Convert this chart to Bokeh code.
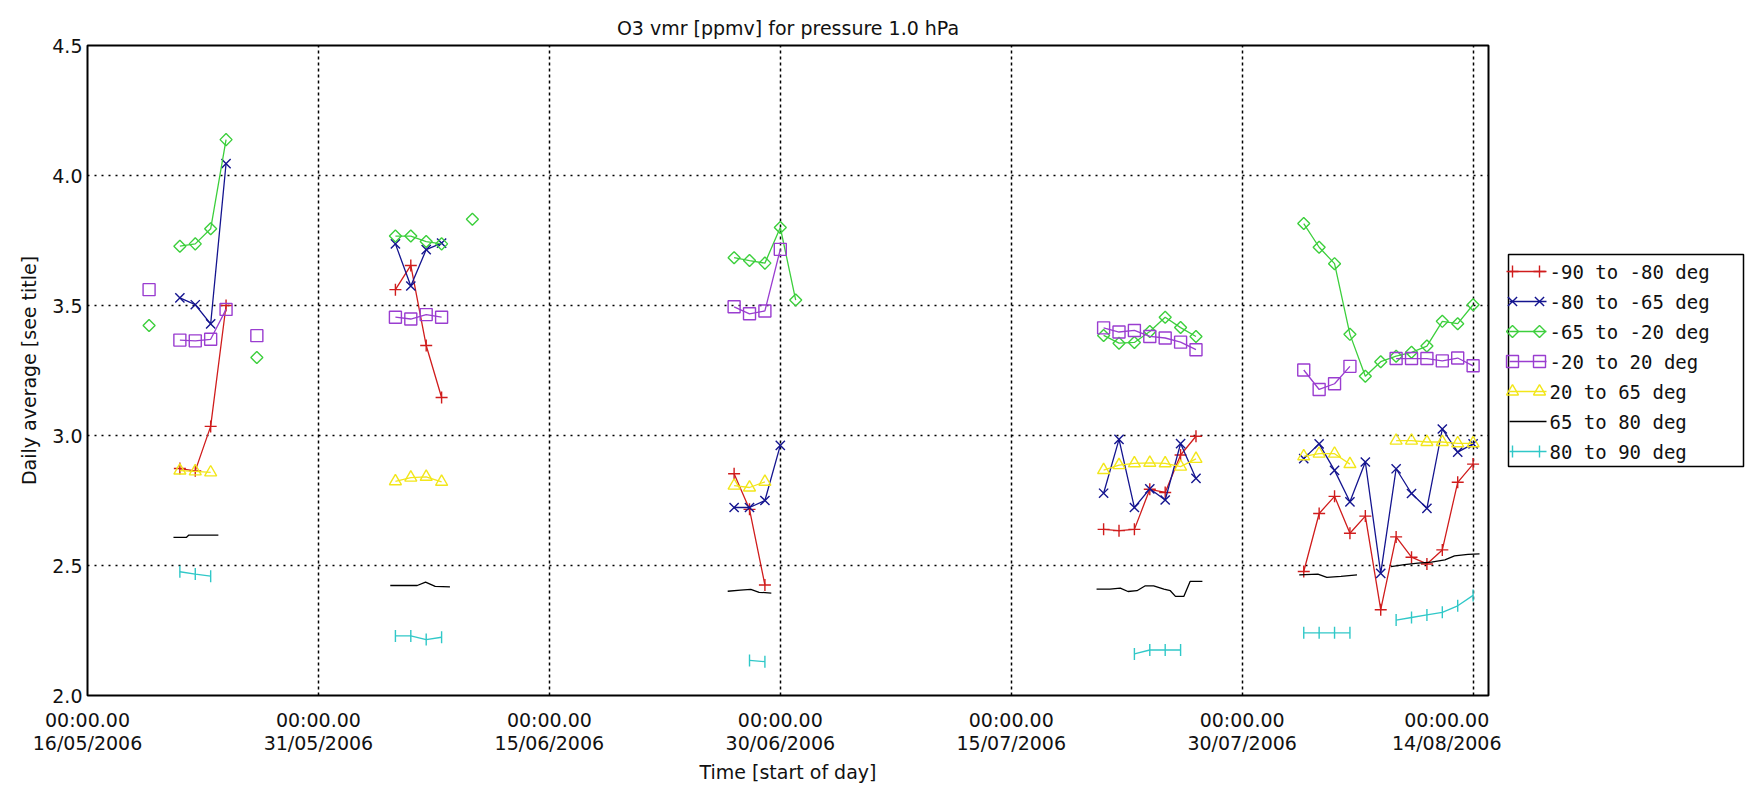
import numpy as np
import pandas as pd
from bokeh.plotting import figure
from bokeh.models import Range1d, FixedTicker, DatetimeTickFormatter, NumeralTickFormatter
from bokeh.layouts import row
from bokeh.embed import file_html
from bokeh.resources import INLINE
from bokeh.core.properties import value

TITLE = "O3 vmr [ppmv] for pressure 1.0 hPa"
X_LABEL = "Time [start of day]"
Y_LABEL = "Daily average [see title]"

X_START = "2006-05-16"
X_END = "2006-08-15"
X_TICKS = ["2006-05-16", "2006-05-31", "2006-06-15", "2006-06-30",
           "2006-07-15", "2006-07-30", "2006-08-14"]
Y_TICKS = [2.0, 2.5, 3.0, 3.5, 4.0, 4.5]

# observation days (daily averages)
dates = ["2006-05-20", "2006-05-22", "2006-05-23", "2006-05-24", "2006-05-25", "2006-05-27",
         "2006-06-05", "2006-06-06", "2006-06-07", "2006-06-08", "2006-06-10",
         "2006-06-27", "2006-06-28", "2006-06-29", "2006-06-30", "2006-07-01",
         "2006-07-21", "2006-07-22", "2006-07-23", "2006-07-24", "2006-07-25", "2006-07-26", "2006-07-27",
         "2006-08-03", "2006-08-04", "2006-08-05", "2006-08-06", "2006-08-07", "2006-08-08",
         "2006-08-09", "2006-08-10", "2006-08-11", "2006-08-12", "2006-08-13", "2006-08-14"]

N = None
s_90_80 = [N, 2.873, 2.864, 3.035, 3.50, N,
           3.561, 3.654, 3.346, 3.146, N,
           2.853, 2.716, 2.425, N, N,
           2.639, 2.634, 2.639, 2.793, 2.781, 2.925, 2.997,
           2.477, 2.700, 2.766, 2.624, 2.690, 2.330,
           2.610, 2.532, 2.506, 2.560, 2.820, 2.890]
s_80_65 = [N, 3.529, 3.503, 3.429, 4.046, N,
           3.737, 3.575, 3.715, 3.740, N,
           2.723, 2.723, 2.750, 2.962, N,
           2.778, 2.985, 2.723, 2.795, 2.752, 2.969, 2.835,
           2.911, 2.968, 2.866, 2.745, 2.898, 2.470,
           2.872, 2.777, 2.720, 3.025, 2.936, 2.968]
s_65_20 = [3.423, 3.728, 3.737, 3.795, 4.138, 3.300,
           3.767, 3.767, 3.746, 3.737, 3.832,
           3.684, 3.673, 3.663, 3.800, 3.521,
           3.385, 3.355, 3.358, 3.400, 3.455, 3.415, 3.381,
           3.815, 3.724, 3.661, 3.389, 3.228, 3.284,
           3.305, 3.320, 3.344, 3.439, 3.430, 3.503]
s_20_20 = [3.561, 3.367, 3.364, 3.370, 3.485, 3.384,
           3.455, 3.448, 3.465, 3.455, N,
           3.495, 3.468, 3.479, 3.716, N,
           3.414, 3.398, 3.404, 3.381, 3.375, 3.359, 3.330,
           3.252, 3.177, 3.199, 3.266, N, N,
           3.296, 3.296, 3.296, 3.287, 3.298, 3.268]
s_20_65 = [N, 2.865, 2.862, 2.858, N, N,
           2.824, 2.838, 2.841, 2.822, N,
           2.807, 2.800, 2.822, N, N,
           2.867, 2.886, 2.893, 2.895, 2.893, 2.880, 2.910,
           2.920, 2.930, 2.930, 2.890, N, N,
           2.980, 2.980, 2.975, 2.975, 2.970, 2.970]
s_80_90 = [N, 2.476, 2.467, 2.459, N, N,
           2.229, 2.229, 2.215, 2.224, N,
           N, 2.135, 2.130, N, N,
           N, N, 2.160, 2.175, 2.175, 2.175, N,
           2.241, 2.241, 2.241, 2.241, N, N,
           2.290, 2.300, 2.310, 2.320, 2.345, 2.385]

# 65 to 80 deg is drawn as a plain line with its own (sub-daily) time stamps
dates_65_80 = ["2006-05-21 14:00", "2006-05-22 10:00", "2006-05-22 14:00", "2006-05-23 12:00", "2006-05-24 12:00",
               "2006-06-04 16:00", "2006-06-05 12:00", "2006-06-06 10:00", "2006-06-06 23:00", "2006-06-07 14:00",
               "2006-06-08 13:00",
               "2006-06-26 14:00", "2006-06-27 10:00", "2006-06-28 02:00", "2006-06-28 15:00", "2006-06-29 10:00",
               "2006-07-20 13:00", "2006-07-21 10:00", "2006-07-22 02:00", "2006-07-22 14:00", "2006-07-23 04:00",
               "2006-07-23 17:00", "2006-07-24 06:00", "2006-07-24 22:00", "2006-07-25 08:00", "2006-07-25 16:00",
               "2006-07-26 05:00", "2006-07-26 15:00", "2006-07-27 10:00",
               "2006-08-02 17:00", "2006-08-03 22:00", "2006-08-04 12:00", "2006-08-05 10:00", "2006-08-06 11:00",
               "2006-08-08 16:00", "2006-08-09 13:00", "2006-08-10 10:00", "2006-08-11 07:00", "2006-08-12 04:00",
               "2006-08-12 19:00", "2006-08-13 16:00", "2006-08-14 10:00"]
s_65_80 = [2.608, 2.608, 2.617, 2.617, 2.617,
           2.423, 2.423, 2.423, 2.436, 2.420,
           2.418,
           2.401, 2.405, 2.408, 2.397, 2.394,
           2.409, 2.409, 2.413, 2.400, 2.403,
           2.422, 2.422, 2.409, 2.403, 2.381,
           2.381, 2.439, 2.439,
           2.464, 2.467, 2.454, 2.458, 2.464,
           2.496, 2.503, 2.509, 2.513, 2.522,
           2.537, 2.543, 2.545]

LABELS = ["-90 to -80 deg", "-80 to -65 deg", "-65 to -20 deg", "-20 to 20 deg",
          "20 to 65 deg", "65 to 80 deg", "80 to 90 deg"]

FONT = "DejaVu Sans"
LFONT = "DejaVu Sans Mono"
FS = "19px"
TXT = "#111111"

# style per series: (dates, values, colour, marker, size, angle, gap hours)
series = [
    (dates, s_90_80, "#d01c1c", "cross", 12, 0.0, 36),
    (dates, s_80_65, "#14148f", "x", 13, 0.0, 36),
    (dates, s_65_20, "#3ccf3c", "square", 8.5, np.pi / 4, 36),
    (dates, s_20_20, "#9a3dd0", "square", 12, 0.0, 36),
    (dates, s_20_65, "#f2e61a", "triangle", 12, 0.0, 36),
    (dates_65_80, s_65_80, "#000000", None, 0, 0.0, 50),
    (dates, s_80_90, "#30c8c8", "dash", 12, np.pi / 2, 36),
]


def build(ds, vs, gap_h):
    xs, ys = [], []
    prev = None
    for d, v in zip(ds, vs):
        if v is None:
            continue
        t = pd.Timestamp(d)
        if prev is not None and (t - prev) > pd.Timedelta(hours=gap_h):
            xs.append(prev + pd.Timedelta(hours=12))
            ys.append(np.nan)
        xs.append(t)
        ys.append(v)
        prev = t
    return xs, ys


def ms(s):
    return pd.Timestamp(s).value / 1e6


TOP, BOTTOM, FH = 45, 92, 650

p = figure(frame_width=1401, frame_height=FH,
           x_axis_type="datetime",
           x_range=Range1d(pd.Timestamp(X_START), pd.Timestamp(X_END)),
           y_range=Range1d(2.0, 4.5),
           output_backend="svg", toolbar_location=None,
           min_border_left=87, min_border_right=13, min_border_top=TOP, min_border_bottom=BOTTOM,
           background_fill_color="white", border_fill_color="white")

p.title.text = TITLE
p.title.align = "center"
p.title.text_font = FONT
p.title.text_font_size = FS
p.title.text_font_style = "normal"
p.title.text_color = TXT
p.title.standoff = 13

p.outline_line_color = "black"
p.outline_line_width = 2
p.outline_line_alpha = 1.0

xt = FixedTicker(ticks=[ms(t) for t in X_TICKS])
p.xaxis.ticker = xt
fmt = "%H:%M.%S\n%d/%m/%Y"
p.xaxis.formatter = DatetimeTickFormatter(
    microseconds=fmt, milliseconds=fmt, seconds=fmt, minsec=fmt, minutes=fmt,
    hourmin=fmt, hours=fmt, days=fmt, months=fmt, years=fmt)
yt = FixedTicker(ticks=Y_TICKS)
p.yaxis.ticker = yt
p.yaxis.formatter = NumeralTickFormatter(format="0.0")

for ax in (p.xaxis[0], p.yaxis[0]):
    ax.axis_line_color = None
    ax.major_tick_in = 0
    ax.major_tick_out = 0
    ax.minor_tick_in = 0
    ax.minor_tick_out = 0
    ax.major_label_text_font = FONT
    ax.major_label_text_font_size = FS
    ax.major_label_text_color = TXT
    ax.axis_label_text_font = FONT
    ax.axis_label_text_font_size = FS
    ax.axis_label_text_font_style = "normal"
    ax.axis_label_text_color = TXT

p.xaxis.axis_label = X_LABEL
p.yaxis.axis_label = Y_LABEL
p.xaxis.major_label_text_line_height = 1.05
p.xaxis.major_label_standoff = 13
p.xaxis.axis_label_standoff = 4
p.yaxis.major_label_standoff = 5
p.yaxis.axis_label_standoff = 9

p.xgrid.ticker = xt
p.ygrid.ticker = yt
p.xgrid.grid_line_color = "black"
p.xgrid.grid_line_dash = "3 3"
p.xgrid.grid_line_width = 1.5
p.ygrid.grid_line_color = "black"
p.ygrid.grid_line_dash = "2 5"
p.ygrid.grid_line_width = 1.5

for ds, vs, col, mk, sz, ang, gap in series:
    xs, ys = build(ds, vs, gap)
    p.line(xs, ys, line_color=col, line_width=1.3)
    if mk is not None:
        p.scatter(xs, ys, marker=mk, size=sz, angle=ang, line_color=col,
                  fill_color=None, line_width=1.4)

# legend panel: its frame is aligned with the main frame; coordinates are page pixels (y downwards)
LW = 245
lf = figure(frame_width=LW, frame_height=FH, x_range=Range1d(0, LW),
            y_range=Range1d(TOP + FH, TOP),
            output_backend="svg", toolbar_location=None, title=None,
            x_axis_location=None, y_axis_location=None,
            min_border_left=0, min_border_right=0, min_border_top=TOP, min_border_bottom=BOTTOM,
            outline_line_color=None,
            background_fill_color="white", border_fill_color="white")
lf.xgrid.visible = False
lf.ygrid.visible = False
lf.quad(left=[7], right=[242], top=[254], bottom=[466], fill_color=None,
        line_color="black", line_width=1.5)
row_y = [271 + 30 * i for i in range(len(LABELS))]
for (ds, vs, col, mk, sz, ang, gap), lab, yy in zip(series, LABELS, row_y):
    lf.line([8, 45], [yy, yy], line_color=col, line_width=1.3)
    if mk is not None:
        lf.scatter([11, 38], [yy, yy], marker=mk, size=sz, angle=ang, line_color=col,
                   fill_color=None, line_width=1.4)
    lf.text([48], [yy], text=[lab], text_font=value(LFONT), text_font_size=FS,
            text_baseline="middle", text_align="left", text_color=TXT)

out = row(p, lf)
open("out.html", "w").write(file_html(out, INLINE))
